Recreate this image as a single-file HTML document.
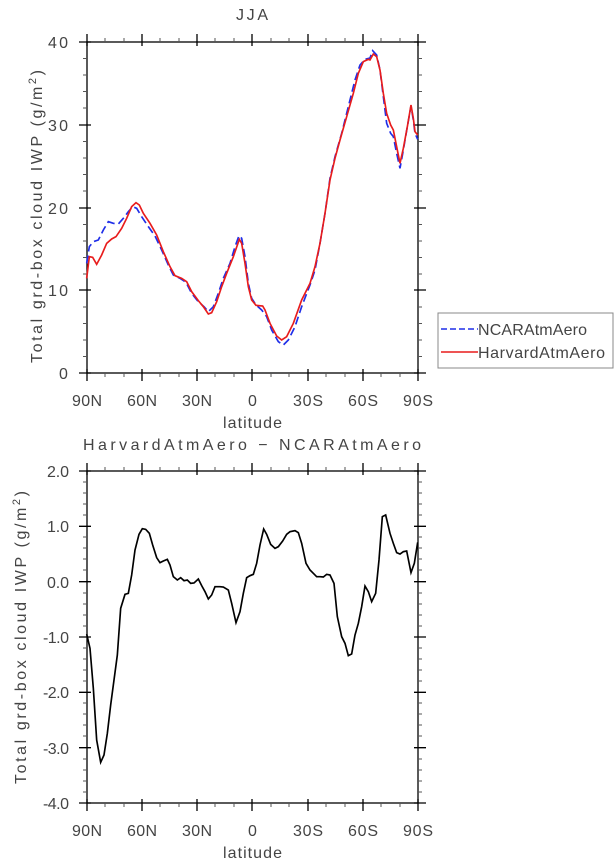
<!DOCTYPE html>
<html><head><meta charset="utf-8"><style>
html,body{margin:0;padding:0;background:#fff;}
svg{display:block;font-family:"Liberation Sans",sans-serif;}
text{fill:#444;font-size:16px;}
</style></head><body>
<svg width="615" height="862" viewBox="0 0 615 862" xmlns="http://www.w3.org/2000/svg">
<!-- TOP PLOT -->
<text x="236" y="20" font-size="16" textLength="32" lengthAdjust="spacing">JJA</text>
<g stroke="#000" stroke-width="1.3" fill="none">
<rect x="87" y="42" width="331" height="331"/>
<path d="M87,369v12M142,369v12M197,369v12M252,369v12M308,369v12M363,369v12M418,369v12M87,46v-12M142,46v-12M197,46v-12M252,46v-12M308,46v-12M363,46v-12M418,46v-12"/>
<path d="M91,42h-12M91,125h-12M91,208h-12M91,290h-12M91,373h-12M414,42h12M414,125h12M414,208h12M414,290h12M414,373h12"/>
</g>
<g stroke="#555" stroke-width="1" fill="none">
<path d="M105,373v4M124,373v4M160,373v4M179,373v4M215,373v4M234,373v4M271,373v4M289,373v4M326,373v4M345,373v4M381,373v4M400,373v4
M105,42v-4M124,42v-4M160,42v-4M179,42v-4M215,42v-4M234,42v-4M271,42v-4M289,42v-4M326,42v-4M345,42v-4M381,42v-4M400,42v-4
M87,58.5h-4M87,75h-4M87,91.5h-4M87,108h-4M87,141.5h-4M87,158h-4M87,174.5h-4M87,191h-4M87,224.5h-4M87,241h-4M87,257.5h-4M87,274h-4M87,307h-4M87,323.5h-4M87,340h-4M87,356.5h-4
M418,58.5h4M418,75h4M418,91.5h4M418,108h4M418,141.5h4M418,158h4M418,174.5h4M418,191h4M418,224.5h4M418,241h4M418,257.5h4M418,274h4M418,307h4M418,323.5h4M418,340h4M418,356.5h4"/>
</g>
<g>
<text x="48" y="48" textLength="20" lengthAdjust="spacing">40</text>
<text x="48" y="131" textLength="20" lengthAdjust="spacing">30</text>
<text x="48" y="214" textLength="20" lengthAdjust="spacing">20</text>
<text x="48" y="296" textLength="20" lengthAdjust="spacing">10</text>
<text x="59" y="379">0</text>
</g>
<g>
<text x="72" y="406" textLength="30" lengthAdjust="spacing">90N</text>
<text x="127" y="406" textLength="30" lengthAdjust="spacing">60N</text>
<text x="182" y="406" textLength="30" lengthAdjust="spacing">30N</text>
<text x="248" y="406">0</text>
<text x="293" y="406" textLength="30" lengthAdjust="spacing">30S</text>
<text x="348" y="406" textLength="30" lengthAdjust="spacing">60S</text>
<text x="403" y="406" textLength="30" lengthAdjust="spacing">90S</text>
<text x="223" y="428" textLength="59" lengthAdjust="spacing">latitude</text>
</g>
<text transform="translate(42,363) rotate(-90)" font-size="17" textLength="293" lengthAdjust="spacing">Total grd-box cloud IWP (g/m<tspan font-size="11" dy="-6">2</tspan><tspan dy="6">)</tspan></text>
<g transform="translate(80,30) scale(0.3333333)" fill="none">
<polyline stroke="#1f2ee8" stroke-width="5" stroke-dasharray="24,12" points="20,700 28,650 40,635 55,630 70,600 85,575 100,580 115,582 130,565 145,545 158,530 170,535 185,560 205,590 225,618 245,660 265,705 280,735 300,745 318,757 335,790 355,815 372,830 385,845 400,830 415,790 430,745 450,700 465,650 477,617 485,625 495,680 505,760 515,805 528,825 545,840 560,860 575,900 595,935 610,945 625,930 645,890 665,830 690,765 705,720 720,640 735,550 750,445 765,380 785,310 805,230 825,150 840,105 855,88 870,84 878,62 890,75 900,120 910,200 920,280 932,310 940,320 950,370 960,415 970,360 982,290 993,228 1000,270 1005,310 1013,328"/>
<polyline stroke="#e81c1c" stroke-width="5" points="20,745 28,680 38,682 50,703 65,675 80,640 95,627 108,620 125,595 140,565 155,530 168,518 178,525 190,550 210,580 230,615 250,665 270,710 285,737 305,745 320,755 335,785 355,812 370,830 385,852 395,848 410,815 425,770 440,730 460,680 478,628 485,640 495,700 505,770 515,810 528,826 548,828 555,840 570,880 590,918 605,930 620,920 640,880 665,810 690,760 705,710 720,640 735,550 750,450 765,385 780,330 800,260 820,190 835,130 850,95 865,88 870,90 880,72 890,80 900,120 910,190 920,250 932,285 940,300 950,350 960,400 970,355 982,290 993,225 1000,265 1005,305 1013,315"/>
</g>
<!-- legend -->
<rect x="438" y="313" width="175" height="55" fill="#fff" stroke="#888" stroke-width="1"/>
<line x1="441" y1="329" x2="478" y2="329" stroke="#1f2ee8" stroke-width="1.5" stroke-dasharray="6,3"/>
<text x="478" y="335" textLength="109" lengthAdjust="spacing">NCARAtmAero</text>
<line x1="441" y1="352" x2="478" y2="352" stroke="#e81c1c" stroke-width="1.5"/>
<text x="478" y="358" textLength="127" lengthAdjust="spacing">HarvardAtmAero</text>

<!-- BOTTOM PLOT -->
<text x="83" y="450" font-size="20" textLength="338" lengthAdjust="spacing">HarvardAtmAero − NCARAtmAero</text>
<g stroke="#000" stroke-width="1.3" fill="none">
<rect x="87" y="471" width="331" height="332"/>
<path d="M87,799v12M142,799v12M197,799v12M252,799v12M308,799v12M363,799v12M418,799v12M87,475v-12M142,475v-12M197,475v-12M252,475v-12M308,475v-12M363,475v-12M418,475v-12"/>
<path d="M91,471h-12M91,526.3h-12M91,581.7h-12M91,637h-12M91,692.3h-12M91,747.7h-12M91,803h-12M414,471h12M414,526.3h12M414,581.7h12M414,637h12M414,692.3h12M414,747.7h12M414,803h12"/>
</g>
<g stroke="#555" stroke-width="1" fill="none">
<path d="M105,803v4M124,803v4M160,803v4M179,803v4M215,803v4M234,803v4M271,803v4M289,803v4M326,803v4M345,803v4M381,803v4M400,803v4
M105,471v-4M124,471v-4M160,471v-4M179,471v-4M215,471v-4M234,471v-4M271,471v-4M289,471v-4M326,471v-4M345,471v-4M381,471v-4M400,471v-4
M87,482h-4M87,493h-4M87,504h-4M87,515h-4M87,537h-4M87,548h-4M87,559h-4M87,570h-4M87,593h-4M87,604h-4M87,615h-4M87,626h-4M87,648h-4M87,659h-4M87,670h-4M87,681h-4M87,703h-4M87,714h-4M87,725h-4M87,736h-4M87,759h-4M87,770h-4M87,781h-4M87,792h-4
M418,482h4M418,493h4M418,504h4M418,515h4M418,537h4M418,548h4M418,559h4M418,570h4M418,593h4M418,604h4M418,615h4M418,626h4M418,648h4M418,659h4M418,670h4M418,681h4M418,703h4M418,714h4M418,725h4M418,736h4M418,759h4M418,770h4M418,781h4M418,792h4"/>
</g>
<g>
<text x="47" y="477" textLength="22" lengthAdjust="spacing">2.0</text>
<text x="47" y="532" textLength="22" lengthAdjust="spacing">1.0</text>
<text x="47" y="588" textLength="22" lengthAdjust="spacing">0.0</text>
<text x="43" y="643" textLength="26" lengthAdjust="spacing">-1.0</text>
<text x="43" y="698" textLength="26" lengthAdjust="spacing">-2.0</text>
<text x="43" y="754" textLength="26" lengthAdjust="spacing">-3.0</text>
<text x="43" y="809" textLength="26" lengthAdjust="spacing">-4.0</text>
</g>
<g>
<text x="72" y="836" textLength="30" lengthAdjust="spacing">90N</text>
<text x="127" y="836" textLength="30" lengthAdjust="spacing">60N</text>
<text x="182" y="836" textLength="30" lengthAdjust="spacing">30N</text>
<text x="248" y="836">0</text>
<text x="293" y="836" textLength="30" lengthAdjust="spacing">30S</text>
<text x="348" y="836" textLength="30" lengthAdjust="spacing">60S</text>
<text x="403" y="836" textLength="30" lengthAdjust="spacing">90S</text>
<text x="223" y="858" textLength="59" lengthAdjust="spacing">latitude</text>
</g>
<text transform="translate(26,784) rotate(-90)" font-size="17" textLength="293" lengthAdjust="spacing">Total grd-box cloud IWP (g/m<tspan font-size="11" dy="-6">2</tspan><tspan dy="6">)</tspan></text>
<g transform="translate(80,435) scale(0.3333333)" fill="none">
<polyline stroke="#000" stroke-width="5" points="20,597 30,640 40,760 50,915 62,982 72,960 82,895 92,810 100,750 112,660 122,520 135,478 145,475 155,420 165,345 177,298 187,281 197,283 208,295 218,330 230,368 240,383 250,378 262,373 270,390 280,425 292,435 302,428 312,437 322,435 332,445 342,444 355,432 365,452 375,470 385,492 395,480 405,455 420,455 430,456 445,465 455,505 468,563 480,530 490,475 500,428 510,422 520,418 530,385 540,330 551,282 560,298 572,328 585,340 595,335 608,318 620,298 630,290 645,287 655,293 665,325 678,385 690,405 700,415 710,425 720,425 730,426 740,418 750,420 762,445 772,545 785,605 795,625 805,662 815,657 825,600 835,565 845,515 855,453 865,470 875,500 887,475 897,375 907,245 917,240 930,295 940,325 950,353 960,357 970,350 980,348 993,413 1003,385 1013,322"/>
</g>
</svg>
</body></html>
